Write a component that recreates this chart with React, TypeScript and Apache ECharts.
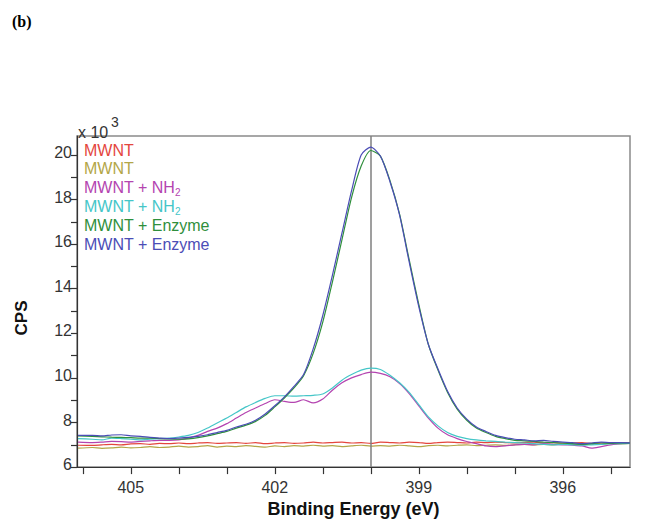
import React, { useEffect, useRef } from "react";
import * as echarts from "echarts";

const energy = [406.1, 405.8, 405.6, 405.4, 405.2, 405.0, 404.8, 404.6, 404.4, 404.2,
  404.0, 403.8, 403.6, 403.4, 403.2, 403.0, 402.8, 402.6, 402.4, 402.2,
  402.0, 401.8, 401.6, 401.4, 401.2, 401.0, 400.8, 400.6, 400.4, 400.2,
  400.0, 399.8, 399.6, 399.4, 399.2, 399.0, 398.8, 398.6, 398.4, 398.2,
  398.0, 397.8, 397.6, 397.4, 397.2, 397.0, 396.8, 396.6, 396.4, 396.2,
  396.0, 395.8, 395.6, 395.4, 395.2, 395.0, 394.8, 394.6];

const mwntRed = [6.98, 6.97, 7.00, 7.02, 7.00, 7.04, 7.05, 7.02, 7.06, 7.05,
  7.08, 7.05, 7.08, 7.10, 7.06, 7.08, 7.10, 7.06, 7.10, 7.05,
  7.08, 7.10, 7.06, 7.08, 7.12, 7.08, 7.10, 7.12, 7.08, 7.10,
  7.06, 7.12, 7.10, 7.08, 7.12, 7.10, 7.06, 7.10, 7.12, 7.10,
  7.08, 7.12, 7.10, 7.12, 7.10, 7.08, 7.10, 7.12, 7.08, 7.10,
  7.06, 7.08, 7.10, 7.06, 7.08, 7.10, 7.08, 7.10];

const mwntOlive = [6.85, 6.88, 6.84, 6.86, 6.90, 6.86, 6.88, 6.92, 6.88, 6.90,
  6.94, 6.90, 6.92, 6.96, 6.90, 6.94, 6.92, 6.96, 6.93, 6.90,
  6.95, 6.92, 6.96, 6.94, 6.98, 6.94, 6.96, 6.92, 6.95, 6.98,
  6.94, 6.96, 6.94, 6.98, 6.95, 6.92, 6.96, 6.98, 6.95, 6.98,
  7.00, 6.96, 6.98, 7.00, 6.97, 7.00, 7.02, 7.00, 7.02, 7.00,
  7.04, 7.02, 7.00, 7.04, 7.02, 7.05, 7.04, 7.06];

const nh2Magenta = [7.12, 7.10, 7.12, 7.15, 7.14, 7.12, 7.15, 7.18, 7.20, 7.20,
  7.22, 7.30, 7.42, 7.60, 7.75, 7.95, 8.20, 8.45, 8.65, 8.85,
  9.02, 8.95, 8.90, 9.02, 8.88, 9.05, 9.45, 9.78, 10.00, 10.15,
  10.26, 10.20, 10.05, 9.75, 9.30, 8.75, 8.20, 7.75, 7.45, 7.28,
  7.15, 7.05, 6.95, 6.92, 6.95, 7.00, 7.02, 7.00, 7.05, 7.02,
  7.00, 6.98, 6.95, 6.85, 6.92, 7.00, 7.05, 7.10];

const nh2Cyan = [7.28, 7.25, 7.22, 7.30, 7.28, 7.25, 7.22, 7.25, 7.28, 7.30,
  7.35, 7.42, 7.55, 7.75, 7.98, 8.20, 8.45, 8.70, 8.90, 9.08,
  9.20, 9.20, 9.18, 9.20, 9.22, 9.28, 9.55, 9.90, 10.15, 10.35,
  10.44, 10.38, 10.12, 9.78, 9.35, 8.80, 8.25, 7.85, 7.55, 7.38,
  7.28, 7.22, 7.18, 7.15, 7.12, 7.10, 7.08, 7.05, 7.02, 7.00,
  7.02, 7.00, 6.98, 7.00, 7.02, 7.05, 7.05, 7.06];

const enzymeGreen = [7.40, 7.38, 7.36, 7.34, 7.33, 7.32, 7.30, 7.30, 7.28, 7.26,
  7.25, 7.27, 7.32, 7.40, 7.50, 7.60, 7.75, 7.88, 8.05, 8.32,
  8.70, 9.10, 9.55, 10.10, 11.10, 12.50, 14.30, 16.20, 18.10, 19.50,
  20.20, 19.95, 18.85, 17.35, 15.30, 13.30, 11.50, 10.35, 9.35, 8.60,
  8.10, 7.75, 7.55, 7.38, 7.28, 7.20, 7.18, 7.15, 7.12, 7.10,
  7.08, 7.05, 7.02, 7.05, 7.08, 7.06, 7.08, 7.08];

const enzymeBlue = [7.42, 7.42, 7.40, 7.44, 7.45, 7.40, 7.38, 7.33, 7.30, 7.28,
  7.30, 7.33, 7.38, 7.45, 7.55, 7.65, 7.80, 7.92, 8.10, 8.38,
  8.75, 9.15, 9.62, 10.15, 11.30, 12.80, 14.60, 16.50, 18.40, 20.00,
  20.35, 19.95, 18.80, 17.30, 15.20, 13.20, 11.50, 10.40, 9.40, 8.65,
  8.15, 7.80, 7.60, 7.42, 7.32, 7.25, 7.22, 7.18, 7.20, 7.15,
  7.12, 7.10, 7.05, 7.08, 7.12, 7.10, 7.10, 7.08];

const xLabelValues = [396, 399, 402, 405];
const xTickValues = [395, 396, 397, 398, 399, 400, 401, 402, 403, 404, 405, 406];
const yLabelValues = [6, 8, 10, 12, 14, 16, 18, 20];
const yTickValues = [6, 7, 8, 9, 10, 11, 12, 13, 14, 15, 16, 17, 18, 19, 20];
const peakLine = 400;

const seriesNames = ["MWNT", "MWNT", "MWNT + NH2", "MWNT + NH2", "MWNT + Enzyme", "MWNT + Enzyme"];
const seriesColors = ["#e4463e", "#b3a647", "#b444b0", "#45c6c8", "#2f8f3c", "#4b4db6"];
const seriesData = [mwntRed, mwntOlive, nh2Magenta, nh2Cyan, enzymeGreen, enzymeBlue];

const SANS = '"Liberation Sans", Arial, Helvetica, sans-serif';

export default function App() {
  const ref = useRef<HTMLDivElement>(null);
  useEffect(() => {
    const chart = echarts.init(ref.current!, null, { renderer: "svg" });
    const series: any[] = seriesData.map((ys, si) => ({
      type: "line",
      name: seriesNames[si],
      data: energy.map((x, i) => [x, ys[i]]),
      showSymbol: false,
      smooth: 0.25,
      lineStyle: { color: seriesColors[si], width: 1.2 },
      itemStyle: { color: seriesColors[si] },
      z: 3 + si,
    }));
    series[0].markLine = {
      silent: true,
      symbol: "none",
      label: { show: false },
      lineStyle: { color: "#7f7f7f", width: 1.5, type: "solid" },
      data: [{ xAxis: peakLine }],
    };

    const legendTop = 150;
    const legendStep = 18.8;
    const legendGraphics: any[] = seriesNames.map((name, i) => {
      const color = seriesColors[i];
      const hasSub = name.endsWith("NH2");
      return {
        type: "text",
        x: 84,
        y: legendTop + i * legendStep,
        style: hasSub
          ? {
              text: "{a|MWNT + NH}{s|2}",
              verticalAlign: "middle",
              align: "left",
              rich: {
                a: { fill: color, fontSize: 16, fontFamily: SANS },
                s: { fill: color, fontSize: 10, fontFamily: SANS, padding: [10, 0, 0, 0] },
              },
            }
          : {
              text: name,
              fill: color,
              fontSize: 16,
              fontFamily: SANS,
              verticalAlign: "middle",
              align: "left",
            },
      };
    });

    chart.setOption({
      animation: false,
      backgroundColor: "#ffffff",
      grid: {
        left: 77,
        right: 16,
        top: 136,
        bottom: 53,
        show: true,
        borderColor: "#8a8a8a",
        borderWidth: 1.5,
        backgroundColor: "transparent",
      },
      xAxis: {
        type: "value",
        inverse: true,
        min: 394.6,
        max: 406.12,
        axisLine: { show: true, lineStyle: { color: "#333333", width: 1.2 } },
        axisTick: {
          show: true,
          customValues: xTickValues,
          length: 7,
          lineStyle: { color: "#333333", width: 1.2 },
        },
        axisLabel: {
          customValues: xLabelValues,
          fontSize: 16,
          fontFamily: SANS,
          color: "#333333",
          margin: 12,
        },
        splitLine: { show: false },
        name: "Binding Energy (eV)",
        nameLocation: "middle",
        nameGap: 32,
        nameTextStyle: { fontSize: 18, fontWeight: "bold", fontFamily: SANS, color: "#111111" },
      },
      yAxis: {
        type: "value",
        min: 6,
        max: 20.85,
        axisLine: { show: true, lineStyle: { color: "#333333", width: 1.2 } },
        axisTick: {
          show: true,
          customValues: yTickValues,
          length: 6,
          lineStyle: { color: "#333333", width: 1.2 },
        },
        axisLabel: {
          customValues: yLabelValues,
          fontSize: 16,
          fontFamily: SANS,
          color: "#333333",
          margin: 5,
          verticalAlign: "bottom",
          lineHeight: 5,
        },
        splitLine: { show: false },
      },
      graphic: [
        {
          type: "text",
          x: 12,
          y: 21,
          style: {
            text: "(b)",
            fill: "#000000",
            fontSize: 16,
            fontWeight: "bold",
            fontFamily: '"Liberation Serif", "Times New Roman", serif',
            verticalAlign: "middle",
            align: "left",
          },
        },
        {
          type: "text",
          x: 21,
          y: 318,
          rotation: Math.PI / 2,
          style: {
            text: "CPS",
            fill: "#111111",
            fontSize: 17,
            fontWeight: "bold",
            fontFamily: SANS,
            verticalAlign: "middle",
            align: "center",
          },
        },
        {
          type: "text",
          x: 78,
          y: 132,
          style: {
            text: "x 10",
            fill: "#333333",
            fontSize: 16,
            fontFamily: SANS,
            verticalAlign: "middle",
            align: "left",
          },
        },
        {
          type: "text",
          x: 111,
          y: 122,
          style: {
            text: "3",
            fill: "#333333",
            fontSize: 14,
            fontFamily: SANS,
            verticalAlign: "middle",
            align: "left",
          },
        },
        ...legendGraphics,
      ],
      series,
    });
    return () => chart.dispose();
  }, []);
  return (
    <div
      ref={ref}
      style={{ position: "absolute", left: 0, top: 0, width: 646, height: 523 }}
    />
  );
}
